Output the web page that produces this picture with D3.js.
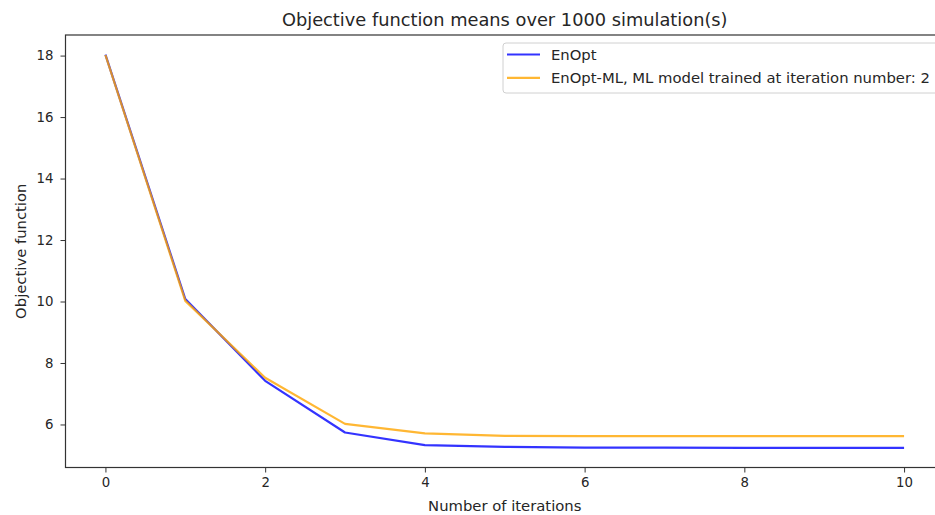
<!DOCTYPE html>
<html>
<head>
<meta charset="utf-8">
<script src="https://cdn.jsdelivr.net/npm/d3@7"></script>
<style>
	body { margin: 0; background: #fff; }
	svg text { font-family: "DejaVu Sans", sans-serif; fill: #262626; }
</style>
</head>
<body>
<div id="chart"></div>
<script>
'use strict';

// data
var iterations = [0, 1, 2, 3, 4, 5, 6, 7, 8, 9, 10];
var enopt = [18.03, 10.08, 7.42, 5.74, 5.33, 5.27, 5.25, 5.25, 5.24, 5.24, 5.24];
var enoptML = [18.02, 10.02, 7.52, 6.02, 5.71, 5.63, 5.62, 5.62, 5.62, 5.62, 5.62];
var xTicks = [0, 2, 4, 6, 8, 10];
var yTicks = [6, 8, 10, 12, 14, 16, 18];
var seriesNames = ['EnOpt', 'EnOpt-ML, ML model trained at iteration number: 2'];
var seriesColors = ['#0000ff', '#ffa500'];

var W = 935, H = 515;
var margin = { left: 65.5, top: 35, right: -9, bottom: 47.5 };

var svg = d3.select('#chart').append('svg')
	.attr('width', W)
	.attr('height', H);

var x = d3.scaleLinear()
	.domain([-0.5, 10.5])
	.range([margin.left, W - margin.right]);

var yMin = d3.min(enopt.concat(enoptML)), yMax = d3.max(enopt.concat(enoptML));
var pad = (yMax - yMin) * 0.05;
var y = d3.scaleLinear()
	.domain([yMin - pad, yMax + pad])
	.range([H - margin.bottom, margin.top]);

// lines
var line = d3.line()
	.x(function(d, i) { return x(iterations[i]); })
	.y(function(d) { return y(d); });

[enopt, enoptML].forEach(function(s, k) {
	svg.append('path')
		.datum(s)
		.attr('d', line)
		.style('fill', 'none')
		.style('stroke', seriesColors[k])
		.style('stroke-opacity', 0.8)
		.style('stroke-width', 2.2)
		.style('stroke-linejoin', 'round');
});

// axes
var xAxis = svg.append('g')
	.attr('transform', 'translate(0,' + (H - margin.bottom) + ')')
	.call(d3.axisBottom(x).tickValues(xTicks).tickSize(5).tickPadding(5).tickFormat(d3.format('d')));

var yAxis = svg.append('g')
	.attr('transform', 'translate(' + margin.left + ',0)')
	.call(d3.axisLeft(y).tickValues(yTicks).tickSize(5).tickPadding(7).tickFormat(d3.format('d')));

[xAxis, yAxis].forEach(function(g) {
	g.selectAll('text').style('font-size', '13.3px').style('fill', '#262626');
	g.selectAll('line').style('stroke', '#333');
	g.select('.domain').remove();
});

// spines
svg.append('rect')
	.attr('x', margin.left)
	.attr('y', margin.top)
	.attr('width', W - margin.right - margin.left)
	.attr('height', H - margin.bottom - margin.top)
	.style('fill', 'none')
	.style('stroke', '#333')
	.style('stroke-width', 1.2);

// title and labels
svg.append('text')
	.attr('x', x(5))
	.attr('y', 26)
	.attr('text-anchor', 'middle')
	.style('font-size', '17.8px')
	.text('Objective function means over 1000 simulation(s)');

svg.append('text')
	.attr('x', x(5))
	.attr('y', 510.5)
	.attr('text-anchor', 'middle')
	.style('font-size', '14.8px')
	.text('Number of iterations');

svg.append('text')
	.attr('transform', 'translate(26,' + ((margin.top + H - margin.bottom) / 2) + ') rotate(-90)')
	.attr('text-anchor', 'middle')
	.style('font-size', '14.8px')
	.text('Objective function');

// legend
var legend = svg.append('g').attr('transform', 'translate(503,43)');
legend.append('rect')
	.attr('width', 440)
	.attr('height', 50)
	.attr('rx', 3)
	.style('fill', '#fff')
	.style('fill-opacity', 0.8)
	.style('stroke', '#d0d0d0');

seriesNames.forEach(function(name, k) {
	var yy = 11.5 + k * 23.4;
	legend.append('line')
		.attr('x1', 4).attr('x2', 37)
		.attr('y1', yy).attr('y2', yy)
		.style('stroke', seriesColors[k])
		.style('stroke-opacity', 0.8)
		.style('stroke-width', 2.2);
	legend.append('text')
		.attr('x', 48)
		.attr('y', yy + 5.3)
		.style('font-size', '14.8px')
		.text(name);
});
</script>
</body>
</html>
